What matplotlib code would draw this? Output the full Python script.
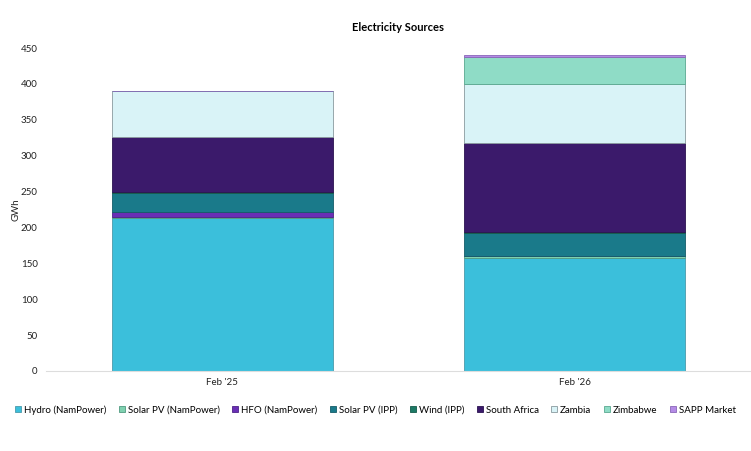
import matplotlib

matplotlib.use("Agg")
import matplotlib.pyplot as plt
import numpy as np

plt.rcParams["font.family"] = ["Lato", "DejaVu Sans"]

periods = ["Feb '25", "Feb '26"]
sources = ["Hydro (NamPower)", "Solar PV (NamPower)", "HFO (NamPower)", "Solar PV (IPP)",
           "Wind (IPP)", "South Africa", "Zambia", "Zimbabwe", "SAPP Market"]
hydro = [212.5, 157.4]
solar_np = [2.5, 2.6]
hfo = [7.0, 0.3]
solar_ipp = [26.5, 31.5]
wind = [1.2, 1.8]
south_africa = [77.0, 123.4]
zambia = [63.5, 82.4]
zimbabwe = [0.0, 38.5]
sapp = [0.0, 2.3]

colors = ["#3bbfdb", "#7fd1b0", "#6a2fb5", "#1a7a8a", "#1d7a66",
          "#3b1a6b", "#d9f3f7", "#8fdcc6", "#b48be6"]
edges = ["#4a9aab", "#4f9a80", "#4d2388", "#145c68", "#145a4a",
         "#2a1250", "#8a9a9e", "#5aa890", "#8a66b8"]

series = [hydro, solar_np, hfo, solar_ipp, wind, south_africa, zambia, zimbabwe, sapp]

fig = plt.figure(figsize=(7.51, 4.51), dpi=100)
ax = fig.add_axes([46 / 751, 1 - 371 / 451, 1 - 46 / 751, (371 - 48) / 451])

x = np.arange(len(periods))
bottom = np.zeros(len(periods))
for name, vals, c, ec in zip(sources, series, colors, edges):
    vals = np.array(vals)
    ax.bar(x, vals, width=0.627, bottom=bottom, color=c, edgecolor=ec, linewidth=0.6, label=name)
    bottom += vals

ax.set_xlim(-0.5, 1.5)
ax.set_ylim(0, 450)
ax.set_yticks(range(0, 451, 50))
ax.set_xticks(x)
ax.set_xticklabels(periods)
for s in ["top", "right", "left"]:
    ax.spines[s].set_visible(False)
ax.spines["bottom"].set_color("#dddddd")
ax.tick_params(axis="both", length=0, labelsize=7, colors="#222222", pad=5)
ax.tick_params(axis="y", pad=6)
ax.set_ylabel("GWh", fontsize=7, color="#222222", labelpad=0)
ax.set_title("Electricity Sources", fontsize=8, fontweight="bold", pad=12)

fig.legend(loc="center", bbox_to_anchor=(0.5, 1 - 410 / 451), ncol=9, frameon=False,
           fontsize=7, handlelength=0.6, handleheight=0.6, handletextpad=0.3, columnspacing=1.3)

fig.savefig("out.png", dpi=100)
